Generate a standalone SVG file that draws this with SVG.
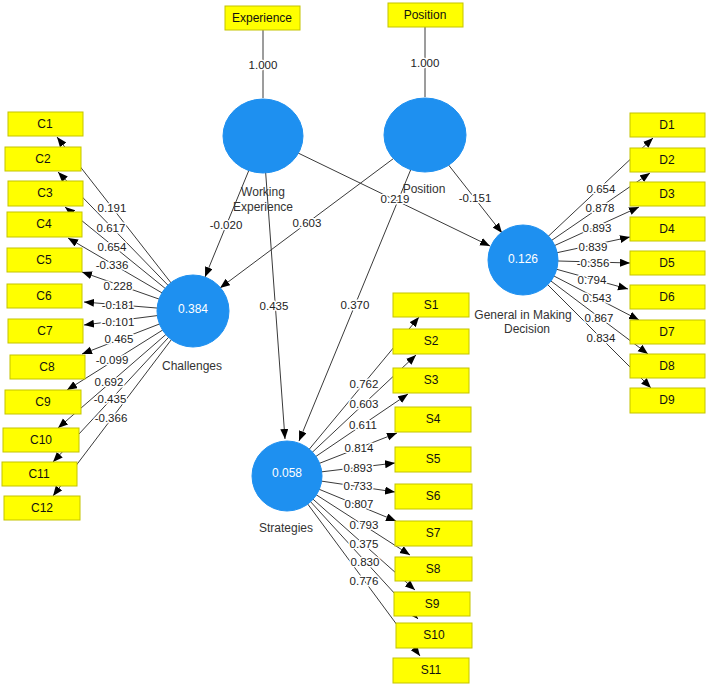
<svg xmlns="http://www.w3.org/2000/svg" width="708" height="685" viewBox="0 0 708 685">
<style>
.bg{fill:#ffffff}
.ln{stroke:#3a3a3a;stroke-width:1;fill:none}
.ar{marker-end:url(#ah)}
.lb{font-family:"Liberation Sans",Arial,sans-serif;font-size:11.5px;fill:#222;text-anchor:middle;dominant-baseline:central;stroke:#ffffff;stroke-width:3px;paint-order:stroke;stroke-linejoin:round}
.box rect{fill:#ffff00;stroke:#c4c400;stroke-width:1}
.box text{font-family:"Liberation Sans",Arial,sans-serif;font-size:12px;fill:#111;text-anchor:middle;dominant-baseline:central}
.lv ellipse,.lv circle{fill:#1e90f0;stroke:#1e90f0}
.lv .in{font-family:"Liberation Sans",Arial,sans-serif;font-size:12px;fill:#ffffff;text-anchor:middle;dominant-baseline:central}
.lv .nm{font-family:"Liberation Sans",Arial,sans-serif;font-size:12px;fill:#333;text-anchor:middle;dominant-baseline:central}
</style>
<defs>
<marker id="ah" markerUnits="userSpaceOnUse" markerWidth="11" markerHeight="9" refX="10" refY="4" orient="auto">
<path d="M0,0 L10,4 L0,8 z" fill="#000"/>
</marker>
</defs>
<rect class="bg" x="0" y="0" width="708" height="685"/>
<g id="connectors">
<path class="ln" d="M263,30 L263,98"/>
<path class="ln" d="M425,27 L425,97"/>
<path class="ln ar" d="M263,136 L490,246"/>
<path class="ln ar" d="M425,135 L502,233"/>
<path class="ln ar" d="M425,135 L220,288"/>
<path class="ln ar" d="M263,136 L205,277"/>
<path class="ln ar" d="M263,136 L285,439"/>
<path class="ln ar" d="M425,135 L299,441"/>
<path class="ln ar" d="M193,311 L57,137"/>
<path class="ln ar" d="M193,311 L58,172"/>
<path class="ln ar" d="M193,311 L65,207"/>
<path class="ln ar" d="M193,311 L68,238"/>
<path class="ln ar" d="M193,311 L82,272"/>
<path class="ln ar" d="M193,311 L84,302"/>
<path class="ln ar" d="M193,311 L84,325"/>
<path class="ln ar" d="M193,311 L82,354"/>
<path class="ln ar" d="M193,311 L67,390"/>
<path class="ln ar" d="M193,311 L58,428"/>
<path class="ln ar" d="M193,311 L53,462"/>
<path class="ln ar" d="M193,311 L53,496"/>
<path class="ln ar" d="M523,260 L653,138"/>
<path class="ln ar" d="M523,260 L650,173"/>
<path class="ln ar" d="M523,260 L639,207"/>
<path class="ln ar" d="M523,260 L630,237"/>
<path class="ln ar" d="M523,260 L630,263"/>
<path class="ln ar" d="M523,260 L628,289"/>
<path class="ln ar" d="M523,260 L639,320"/>
<path class="ln ar" d="M523,260 L648,354"/>
<path class="ln ar" d="M523,260 L651,388"/>
<path class="ln ar" d="M287,476 L419,317"/>
<path class="ln ar" d="M287,476 L416,355"/>
<path class="ln ar" d="M287,476 L408,394"/>
<path class="ln ar" d="M287,476 L397,433"/>
<path class="ln ar" d="M287,476 L395,463"/>
<path class="ln ar" d="M287,476 L395,492"/>
<path class="ln ar" d="M287,476 L396,521"/>
<path class="ln ar" d="M287,476 L410,555"/>
<path class="ln ar" d="M287,476 L415,590"/>
<path class="ln ar" d="M287,476 L418,619"/>
<path class="ln ar" d="M287,476 L420,656"/>
<text class="lb" x="263" y="65">1.000</text>
<text class="lb" x="425" y="63">1.000</text>
<text class="lb" x="395" y="199">0.219</text>
<text class="lb" x="475" y="198">-0.151</text>
<text class="lb" x="307" y="223">0.603</text>
<text class="lb" x="226" y="225">-0.020</text>
<text class="lb" x="274" y="306">0.435</text>
<text class="lb" x="355" y="305">0.370</text>
<text class="lb" x="112" y="208">0.191</text>
<text class="lb" x="111" y="228">0.617</text>
<text class="lb" x="112" y="247">0.654</text>
<text class="lb" x="112" y="265">-0.336</text>
<text class="lb" x="118" y="286">0.228</text>
<text class="lb" x="118" y="305">-0.181</text>
<text class="lb" x="118" y="322">-0.101</text>
<text class="lb" x="119" y="339">0.465</text>
<text class="lb" x="112" y="360">-0.099</text>
<text class="lb" x="109" y="382">0.692</text>
<text class="lb" x="110" y="399">-0.435</text>
<text class="lb" x="111" y="418">-0.366</text>
<text class="lb" x="601" y="189">0.654</text>
<text class="lb" x="600" y="208">0.878</text>
<text class="lb" x="597" y="228">0.893</text>
<text class="lb" x="593" y="247">0.839</text>
<text class="lb" x="593" y="263">-0.356</text>
<text class="lb" x="592" y="280">0.794</text>
<text class="lb" x="597" y="298">0.543</text>
<text class="lb" x="599" y="318">0.867</text>
<text class="lb" x="601" y="338">0.834</text>
<text class="lb" x="364" y="384">0.762</text>
<text class="lb" x="364" y="404">0.603</text>
<text class="lb" x="363" y="425">0.611</text>
<text class="lb" x="359" y="448">0.814</text>
<text class="lb" x="358" y="468">0.893</text>
<text class="lb" x="358" y="486">0.733</text>
<text class="lb" x="359" y="504">0.807</text>
<text class="lb" x="364" y="525">0.793</text>
<text class="lb" x="364" y="544">0.375</text>
<text class="lb" x="365" y="562">0.830</text>
<text class="lb" x="364" y="581">0.776</text>
</g>
<g id="working-experience" class="lv"><ellipse cx="263" cy="136" rx="40" ry="37"/><text class="nm" x="263" y="192">Working</text><text class="nm" x="263" y="207">Experience</text></g>
<g id="position-lv" class="lv"><ellipse cx="425" cy="135" rx="41" ry="37"/><text class="nm" x="424" y="189">Position</text></g>
<g id="challenges" class="lv"><circle cx="193" cy="311" r="36"/><text class="in" x="193" y="309">0.384</text><text class="nm" x="192" y="366">Challenges</text></g>
<g id="general" class="lv"><circle cx="523" cy="260" r="35"/><text class="in" x="523" y="259">0.126</text><text class="nm" x="523" y="315">General in Making</text><text class="nm" x="527" y="329">Decision</text></g>
<g id="strategies" class="lv"><circle cx="287" cy="476" r="35"/><text class="in" x="287" y="473">0.058</text><text class="nm" x="286" y="528">Strategies</text></g>
<g id="experience" class="box"><rect x="225" y="6" width="75" height="24"/><text x="262" y="18">Experience</text></g>
<g id="position" class="box"><rect x="388" y="3" width="75" height="24"/><text x="425" y="15">Position</text></g>
<g id="C1" class="box"><rect x="8" y="112" width="75" height="24"/><text x="45" y="124">C1</text></g>
<g id="C2" class="box"><rect x="5" y="147" width="76" height="24"/><text x="43" y="159">C2</text></g>
<g id="C3" class="box"><rect x="8" y="181" width="75" height="25"/><text x="45" y="193">C3</text></g>
<g id="C4" class="box"><rect x="7" y="212" width="75" height="25"/><text x="44" y="224">C4</text></g>
<g id="C5" class="box"><rect x="7" y="248" width="75" height="24"/><text x="44" y="260">C5</text></g>
<g id="C6" class="box"><rect x="7" y="284" width="75" height="24"/><text x="44" y="296">C6</text></g>
<g id="C7" class="box"><rect x="8" y="319" width="75" height="24"/><text x="45" y="331">C7</text></g>
<g id="C8" class="box"><rect x="10" y="355" width="75" height="24"/><text x="47" y="367">C8</text></g>
<g id="C9" class="box"><rect x="5" y="390" width="76" height="24"/><text x="43" y="402">C9</text></g>
<g id="C10" class="box"><rect x="3" y="428" width="76" height="24"/><text x="41" y="440">C10</text></g>
<g id="C11" class="box"><rect x="2" y="462" width="75" height="24"/><text x="39" y="474">C11</text></g>
<g id="C12" class="box"><rect x="4" y="496" width="76" height="24"/><text x="42" y="508">C12</text></g>
<g id="D1" class="box"><rect x="630" y="113" width="75" height="24"/><text x="667" y="125">D1</text></g>
<g id="D2" class="box"><rect x="630" y="148" width="75" height="24"/><text x="667" y="160">D2</text></g>
<g id="D3" class="box"><rect x="630" y="182" width="75" height="24"/><text x="667" y="194">D3</text></g>
<g id="D4" class="box"><rect x="630" y="217" width="75" height="24"/><text x="667" y="229">D4</text></g>
<g id="D5" class="box"><rect x="630" y="251" width="75" height="24"/><text x="667" y="263">D5</text></g>
<g id="D6" class="box"><rect x="630" y="285" width="75" height="24"/><text x="667" y="297">D6</text></g>
<g id="D7" class="box"><rect x="630" y="320" width="75" height="24"/><text x="667" y="332">D7</text></g>
<g id="D8" class="box"><rect x="630" y="354" width="75" height="24"/><text x="667" y="366">D8</text></g>
<g id="D9" class="box"><rect x="630" y="388" width="75" height="25"/><text x="667" y="400">D9</text></g>
<g id="S1" class="box"><rect x="393" y="293" width="76" height="24"/><text x="431" y="305">S1</text></g>
<g id="S2" class="box"><rect x="393" y="329" width="76" height="25"/><text x="431" y="341">S2</text></g>
<g id="S3" class="box"><rect x="393" y="368" width="76" height="25"/><text x="431" y="380">S3</text></g>
<g id="S4" class="box"><rect x="395" y="407" width="76" height="25"/><text x="433" y="419">S4</text></g>
<g id="S5" class="box"><rect x="395" y="447" width="76" height="25"/><text x="433" y="459">S5</text></g>
<g id="S6" class="box"><rect x="395" y="484" width="77" height="25"/><text x="433" y="496">S6</text></g>
<g id="S7" class="box"><rect x="395" y="521" width="77" height="25"/><text x="433" y="533">S7</text></g>
<g id="S8" class="box"><rect x="395" y="557" width="77" height="24"/><text x="433" y="569">S8</text></g>
<g id="S9" class="box"><rect x="394" y="592" width="76" height="24"/><text x="432" y="604">S9</text></g>
<g id="S10" class="box"><rect x="396" y="623" width="76" height="25"/><text x="434" y="635">S10</text></g>
<g id="S11" class="box"><rect x="393" y="658" width="76" height="25"/><text x="431" y="670">S11</text></g>
</svg>
